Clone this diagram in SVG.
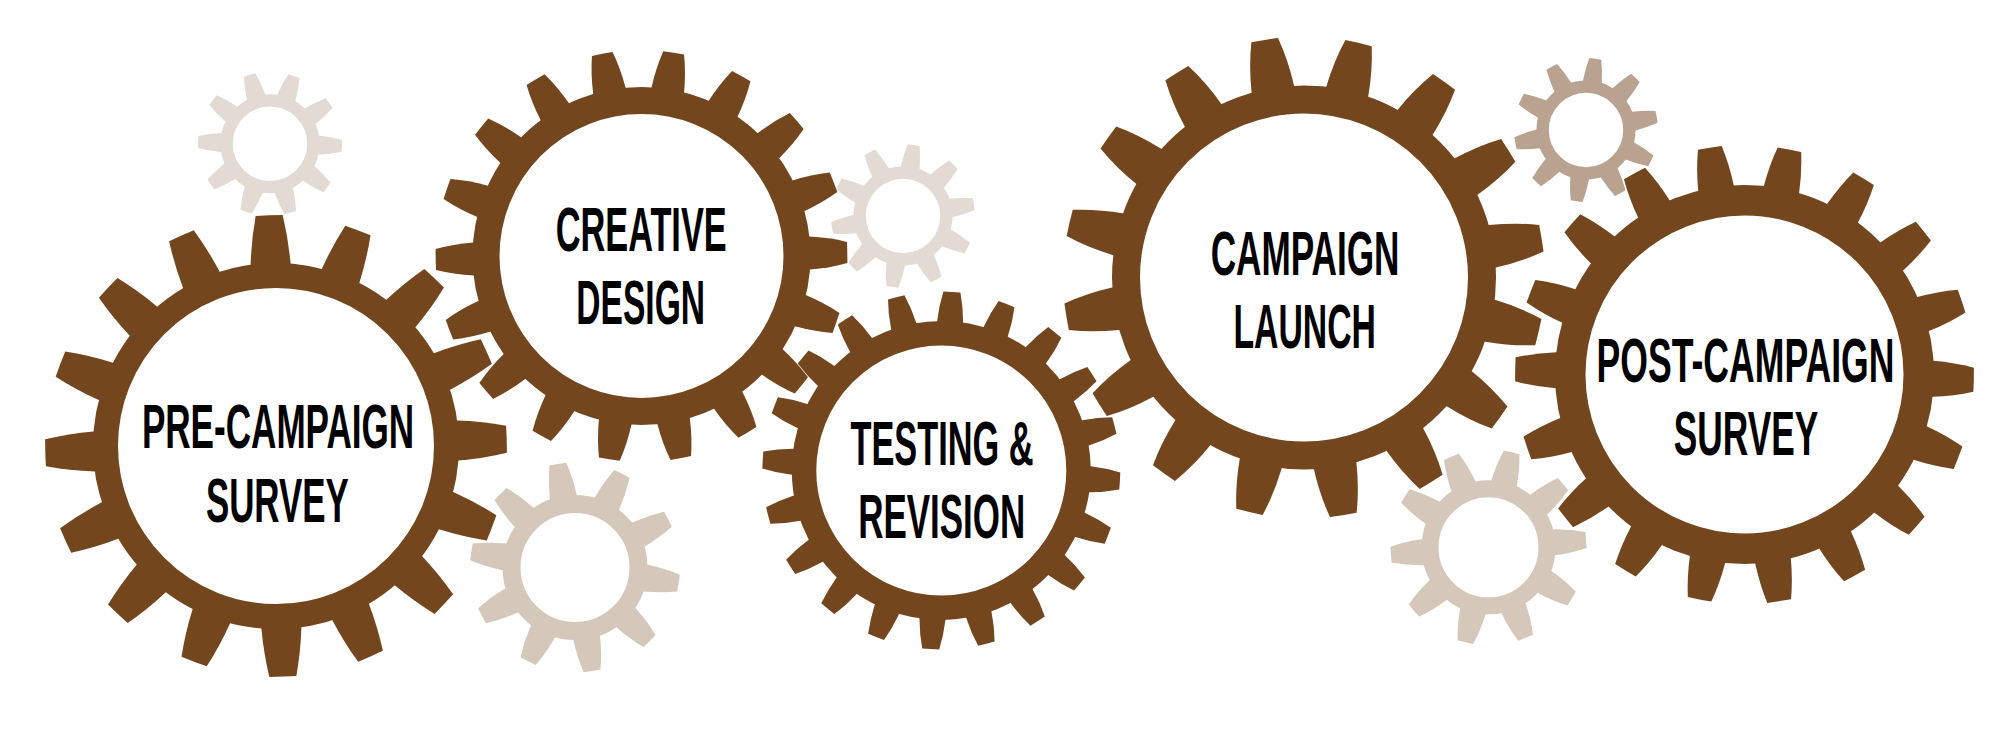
<svg xmlns="http://www.w3.org/2000/svg" width="2000" height="734" viewBox="0 0 2000 734">
<style>
.brown{fill:#74461d}
.brown .ring{fill:none;stroke:#74461d}
.pale{fill:#e3dbd3}
.pale .ring{fill:none;stroke:#e3dbd3}
.tan{fill:#d5c8bb}
.tan .ring{fill:none;stroke:#d5c8bb}
.dark{fill:#b9a28f}
.dark .ring{fill:none;stroke:#b9a28f}
text{font-family:"Liberation Sans",Arial,sans-serif;font-weight:700;font-size:63px;fill:#000;text-anchor:middle}
</style>
<defs>
<path id="tA" d="M-20-177L-20-182Q-18.5-207-13.5-230.6A462 462 0 0 1 13.5-230.6Q18.5-207 20-182L20-177Z"/>
<path id="tB" d="M-16.5-163L-16.5-168Q-15.2-188-10.5-205.7A412 412 0 0 1 10.5-205.7Q15.2-188 16.5-168L16.5-163Z"/>
<path id="tC" d="M-13-144L-13-149Q-12-165-8.5-178.8A358 358 0 0 1 8.5-178.8Q12-165 13-149L13-144Z"/>
<path id="tD" d="M-21.5-186L-21.5-191Q-20-217-13.5-240.6A482 482 0 0 1 13.5-240.6Q20-217 21.5-191L21.5-186Z"/>
<path id="tE" d="M-18-183L-18-188.5Q-16.7-210-12-229.2A459 459 0 0 1 12-229.2Q16.7-210 18-188.5L18-183Z"/>
<path id="tS" d="M-9.5-46L-9.5-48.5Q-8.6-61-6-71.75A144 144 0 0 1 6-71.75Q8.6-61 9.5-48.5L9.5-46Z"/>
<path id="tG" d="M-13.5-68L-13.5-71.5Q-12.5-89-8.5-104.7A210 210 0 0 1 8.5-104.7Q12.5-89 13.5-71.5L13.5-68Z"/>
<path id="tJ" d="M-13-63L-13-66Q-12-83-8-97.7A196 196 0 0 1 8-97.7Q12-83 13-66L13-63Z"/>
</defs>
<rect width="2000" height="734" fill="#fff"/>

<g id="gear-small-top-left" class="pale" transform="translate(270 143.8)">
<circle class="ring" r="43.35" stroke-width="12.3"/>
<use href="#tS" transform="rotate(19.5)"/><use href="#tS" transform="rotate(55.5)"/><use href="#tS" transform="rotate(91.5)"/><use href="#tS" transform="rotate(127.5)"/><use href="#tS" transform="rotate(163.5)"/><use href="#tS" transform="rotate(199.5)"/><use href="#tS" transform="rotate(235.5)"/><use href="#tS" transform="rotate(271.5)"/><use href="#tS" transform="rotate(307.5)"/><use href="#tS" transform="rotate(343.5)"/>
</g>
<g id="gear-small-bottom-left" class="tan" transform="translate(575 567.5)">
<circle class="ring" r="63.5" stroke-width="18"/>
<use href="#tG" transform="rotate(26.6)"/><use href="#tG" transform="rotate(62.6)"/><use href="#tG" transform="rotate(98.6)"/><use href="#tG" transform="rotate(134.6)"/><use href="#tG" transform="rotate(170.6)"/><use href="#tG" transform="rotate(206.6)"/><use href="#tG" transform="rotate(242.6)"/><use href="#tG" transform="rotate(278.6)"/><use href="#tG" transform="rotate(314.6)"/><use href="#tG" transform="rotate(350.6)"/>
</g>
<g id="gear-small-centre" class="pale" transform="translate(903 216)">
<circle class="ring" r="43.35" stroke-width="12.3"/>
<use href="#tS" transform="rotate(8.5)"/><use href="#tS" transform="rotate(44.5)"/><use href="#tS" transform="rotate(80.5)"/><use href="#tS" transform="rotate(116.5)"/><use href="#tS" transform="rotate(152.5)"/><use href="#tS" transform="rotate(188.5)"/><use href="#tS" transform="rotate(224.5)"/><use href="#tS" transform="rotate(260.5)"/><use href="#tS" transform="rotate(296.5)"/><use href="#tS" transform="rotate(332.5)"/>
</g>
<g id="gear-small-top-right" class="dark" transform="translate(1586 130)">
<circle class="ring" r="43.35" stroke-width="12.3"/>
<use href="#tS" transform="rotate(7.5)"/><use href="#tS" transform="rotate(43.5)"/><use href="#tS" transform="rotate(79.5)"/><use href="#tS" transform="rotate(115.5)"/><use href="#tS" transform="rotate(151.5)"/><use href="#tS" transform="rotate(187.5)"/><use href="#tS" transform="rotate(223.5)"/><use href="#tS" transform="rotate(259.5)"/><use href="#tS" transform="rotate(295.5)"/><use href="#tS" transform="rotate(331.5)"/>
</g>
<g id="gear-small-bottom-right" class="tan" transform="translate(1488.5 547.3)">
<circle class="ring" r="58.5" stroke-width="17"/>
<use href="#tJ" transform="rotate(13.7)"/><use href="#tJ" transform="rotate(49.7)"/><use href="#tJ" transform="rotate(85.7)"/><use href="#tJ" transform="rotate(121.7)"/><use href="#tJ" transform="rotate(157.7)"/><use href="#tJ" transform="rotate(193.7)"/><use href="#tJ" transform="rotate(229.7)"/><use href="#tJ" transform="rotate(265.7)"/><use href="#tJ" transform="rotate(301.7)"/><use href="#tJ" transform="rotate(337.7)"/>
</g>

<g id="pre-campaign-survey">
<g class="brown" transform="translate(276 446)">
<circle class="ring" r="170.5" stroke-width="25"/>
<use href="#tA" transform="rotate(-1.7)"/><use href="#tA" transform="rotate(20.8)"/><use href="#tA" transform="rotate(43.3)"/><use href="#tA" transform="rotate(65.8)"/><use href="#tA" transform="rotate(88.3)"/><use href="#tA" transform="rotate(110.8)"/><use href="#tA" transform="rotate(133.3)"/><use href="#tA" transform="rotate(155.8)"/><use href="#tA" transform="rotate(178.3)"/><use href="#tA" transform="rotate(200.8)"/><use href="#tA" transform="rotate(223.3)"/><use href="#tA" transform="rotate(245.8)"/><use href="#tA" transform="rotate(268.3)"/><use href="#tA" transform="rotate(290.8)"/><use href="#tA" transform="rotate(313.3)"/><use href="#tA" transform="rotate(335.8)"/>
</g>
<text transform="translate(278 448) scale(.557 1)">PRE-CAMPAIGN</text>
<text transform="translate(277.3 521.5) scale(.554 1)">SURVEY</text>
</g>

<g id="creative-design">
<g class="brown" transform="translate(641.5 256)">
<circle class="ring" r="155.5" stroke-width="27"/>
<use href="#tB" transform="rotate(9)"/><use href="#tB" transform="rotate(29)"/><use href="#tB" transform="rotate(49)"/><use href="#tB" transform="rotate(69)"/><use href="#tB" transform="rotate(89)"/><use href="#tB" transform="rotate(109)"/><use href="#tB" transform="rotate(129)"/><use href="#tB" transform="rotate(149)"/><use href="#tB" transform="rotate(169)"/><use href="#tB" transform="rotate(189)"/><use href="#tB" transform="rotate(209)"/><use href="#tB" transform="rotate(229)"/><use href="#tB" transform="rotate(249)"/><use href="#tB" transform="rotate(269)"/><use href="#tB" transform="rotate(289)"/><use href="#tB" transform="rotate(309)"/><use href="#tB" transform="rotate(329)"/><use href="#tB" transform="rotate(349)"/>
</g>
<text transform="translate(641.2 250.5) scale(.545 1)">CREATIVE</text>
<text transform="translate(640.7 324) scale(.533 1)">DESIGN</text>
</g>

<g id="testing-revision">
<g class="brown" transform="translate(941.3 470.5)">
<circle class="ring" r="137.25" stroke-width="24.5"/>
<use href="#tC" transform="rotate(3.4)"/><use href="#tC" transform="rotate(21.4)"/><use href="#tC" transform="rotate(39.4)"/><use href="#tC" transform="rotate(57.4)"/><use href="#tC" transform="rotate(75.4)"/><use href="#tC" transform="rotate(93.4)"/><use href="#tC" transform="rotate(111.4)"/><use href="#tC" transform="rotate(129.4)"/><use href="#tC" transform="rotate(147.4)"/><use href="#tC" transform="rotate(165.4)"/><use href="#tC" transform="rotate(183.4)"/><use href="#tC" transform="rotate(201.4)"/><use href="#tC" transform="rotate(219.4)"/><use href="#tC" transform="rotate(237.4)"/><use href="#tC" transform="rotate(255.4)"/><use href="#tC" transform="rotate(273.4)"/><use href="#tC" transform="rotate(291.4)"/><use href="#tC" transform="rotate(309.4)"/><use href="#tC" transform="rotate(327.4)"/><use href="#tC" transform="rotate(345.4)"/>
</g>
<text transform="translate(942 465) scale(.545 1)">TESTING &amp;</text>
<text transform="translate(941.7 538.3) scale(.555 1)">REVISION</text>
</g>

<g id="campaign-launch">
<g class="brown" transform="translate(1304 277.5)">
<circle class="ring" r="178" stroke-width="28"/>
<use href="#tD" transform="rotate(13.1)"/><use href="#tD" transform="rotate(35.6)"/><use href="#tD" transform="rotate(58.1)"/><use href="#tD" transform="rotate(80.6)"/><use href="#tD" transform="rotate(103.1)"/><use href="#tD" transform="rotate(125.6)"/><use href="#tD" transform="rotate(148.1)"/><use href="#tD" transform="rotate(170.6)"/><use href="#tD" transform="rotate(193.1)"/><use href="#tD" transform="rotate(215.6)"/><use href="#tD" transform="rotate(238.1)"/><use href="#tD" transform="rotate(260.6)"/><use href="#tD" transform="rotate(283.1)"/><use href="#tD" transform="rotate(305.6)"/><use href="#tD" transform="rotate(328.1)"/><use href="#tD" transform="rotate(350.6)"/>
</g>
<text transform="translate(1305 275) scale(.558 1)">CAMPAIGN</text>
<text transform="translate(1304.7 348.3) scale(.536 1)">LAUNCH</text>
</g>

<g id="post-campaign-survey">
<g class="brown" transform="translate(1744.5 374.5)">
<circle class="ring" r="174.25" stroke-width="30.5"/>
<use href="#tE" transform="rotate(11.3)"/><use href="#tE" transform="rotate(31.3)"/><use href="#tE" transform="rotate(51.3)"/><use href="#tE" transform="rotate(71.3)"/><use href="#tE" transform="rotate(91.3)"/><use href="#tE" transform="rotate(111.3)"/><use href="#tE" transform="rotate(131.3)"/><use href="#tE" transform="rotate(151.3)"/><use href="#tE" transform="rotate(171.3)"/><use href="#tE" transform="rotate(191.3)"/><use href="#tE" transform="rotate(211.3)"/><use href="#tE" transform="rotate(231.3)"/><use href="#tE" transform="rotate(251.3)"/><use href="#tE" transform="rotate(271.3)"/><use href="#tE" transform="rotate(291.3)"/><use href="#tE" transform="rotate(311.3)"/><use href="#tE" transform="rotate(331.3)"/><use href="#tE" transform="rotate(351.3)"/>
</g>
<text transform="translate(1745.5 381.7) scale(.565 1)">POST-CAMPAIGN</text>
<text transform="translate(1746 455) scale(.56 1)">SURVEY</text>
</g>
<g id="connectors"/>
</svg>
